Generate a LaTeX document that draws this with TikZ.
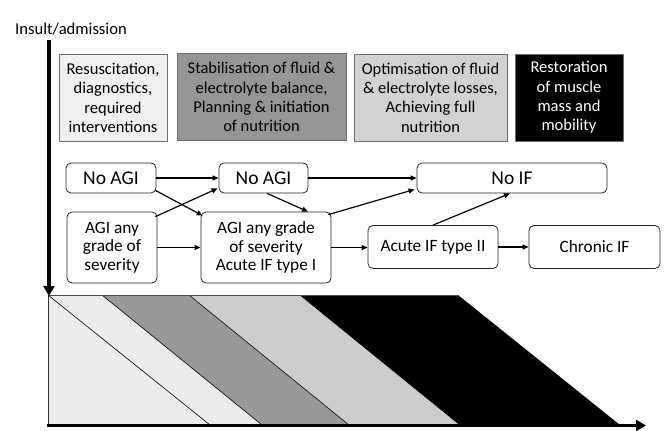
\documentclass[tikz,border=0pt]{standalone}
\usepackage{fontspec}
\setmainfont{Carlito}
\usetikzlibrary{arrows.meta,calc}
\definecolor{bandA}{HTML}{ECECEC}
\definecolor{bandB}{HTML}{989898}
\definecolor{bandC}{HTML}{CDCDCD}
\definecolor{boxA}{HTML}{F0F0F0}
\definecolor{boxB}{HTML}{969696}
\definecolor{boxC}{HTML}{D2D2D2}
\definecolor{edgegray}{HTML}{6E6E6E}
\begin{document}
\begin{tikzpicture}[x=1pt,y=-1pt,
  phase/.style={draw=edgegray,line width=0.8pt,minimum height=87pt,inner sep=2pt,align=center,
    font=\fontsize{16.5}{19.3}\selectfont},
  state/.style={draw=black!85,line width=0.8pt,rounded corners=5pt,align=center,inner sep=2pt},
  big/.style={font=\fontsize{19.5}{22}\selectfont},
  mid/.style={font=\fontsize{17.3}{18.4}\selectfont},
  flow/.style={line width=1.2pt,-{Triangle[length=6pt,width=5pt]}},
  axis/.style={line width=3.5pt,-{Triangle[length=10pt,width=11pt]}},
  sep/.style={line width=0.6pt,black}
]
\useasboundingbox (0,0) rectangle (665,431);

% bands
\fill[bandA] (48,295) -- (102,295) -- (262,425) -- (48,425) -- cycle;
\fill[bandB] (102,295) -- (189,295) -- (349,425) -- (262,425) -- cycle;
\fill[bandC] (189,295) -- (300,295) -- (460,425) -- (349,425) -- cycle;
\fill[black] (300,295) -- (458,295) -- (620,425) -- (460,425) -- cycle;
\draw[sep] (48,295) -- (210,425);
\draw[sep] (102,295) -- (262,425);
\draw[sep] (189,295) -- (349,425);
\draw[sep] (300,295) -- (460,425);
\draw[line width=0.8pt,black!70] (48,295) -- (458,295);
\draw[line width=0.8pt,black!80] (48,295) -- (48,425);

% axes
\coordinate (vtop) at (49,40);
\coordinate (vbot) at (49,296);
\coordinate (hleft) at (47,425.5);
\coordinate (hright) at (646,425.5);
\draw[axis] (vtop) -- (vbot);
\draw[line width=3pt,-{Triangle[length=10pt,width=11pt]}] (hleft) -- (hright);

\node[anchor=west,font=\fontsize{16.6}{19}\selectfont,inner sep=0pt] (ins) at (15,29) {Insult/admission};

% phase boxes
\node[phase,fill=boxA,minimum width=108pt] (p1) at (113,98) {Resuscitation,\\diagnostics,\\required\\interventions};
\node[phase,fill=boxB,minimum width=169pt] (p2) at (261.5,97) {Stabilisation of fluid \&\\electrolyte balance,\\Planning \& initiation\\of nutrition};
\node[phase,fill=boxC,minimum width=153pt] (p3) at (430.5,97.5) {Optimisation of fluid\\\& electrolyte losses,\\Achieving full\\nutrition};
\node[phase,fill=black,text=white,minimum width=108pt] (p4) at (569,97.5) {Restoration\\of muscle\\mass and\\mobility};

% states
\node[state,big,minimum width=90pt,minimum height=30pt] (n1) at (111,178) {No AGI};
\node[state,big,minimum width=89pt,minimum height=30pt] (n2) at (263.5,178) {No AGI};
\node[state,big,minimum width=190pt,minimum height=30pt] (n3) at (512,178) {No IF};
\node[state,mid,minimum width=90pt,minimum height=71pt] (a1) at (112,247.5) {AGI any\\grade of\\severity};
\node[state,mid,minimum width=130pt,minimum height=71pt] (a2) at (266,247.5) {AGI any grade\\of severity\\Acute IF type I};
\node[state,mid,minimum width=130pt,minimum height=43pt] (a3) at (433,247) {Acute IF type II};
\node[state,mid,minimum width=131pt,minimum height=43pt] (a4) at (594.5,247) {Chronic IF};

% connectors
\draw[flow] (n1.east) -- (n2.west);
\draw[flow] (n2.east) -- (n3.west);
\draw[flow] (a1.east) -- (a1.east -| a2.west);
\draw[flow] (a2.east) -- (a2.east -| a3.west);
\draw[flow] (a3.east) -- (a4.west);
\draw[flow] ($(n1.south east)+(-1,-3)$) -- ($(a2.north west)+(2,4)$);
\draw[flow] ($(a1.north east)+(-2,5)$) -- ($(n2.south west)+(-1,-5)$);
\draw[flow] ($(n2.south)+(3.5,0)$) -- ($(a2.north)+(42,0)$);
\draw[flow] ($(a2.north east)+(-3,3)$) -- ($(n3.south west)+(-2,-4)$);
\draw[flow] (a3.north) -- ($(n3.south)+(-2,0)$);
\end{tikzpicture}
\end{document}
